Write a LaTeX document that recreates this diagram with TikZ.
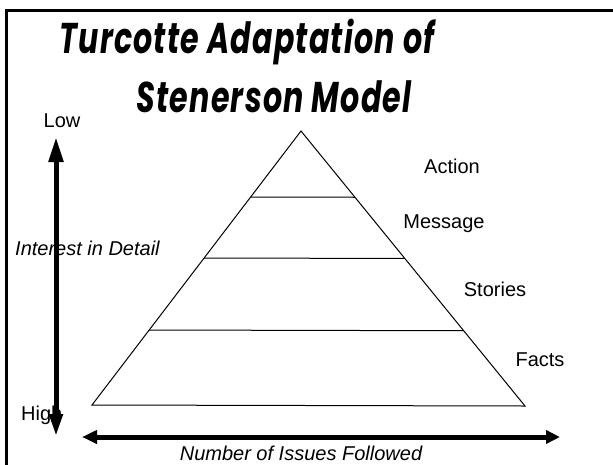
\documentclass[tikz,border=0pt]{standalone}
\usepackage{fontspec}
\setmainfont{Liberation Sans}
\newfontfamily\titlefont[LetterSpace=4]{Poppins}
\usetikzlibrary{arrows.meta,calc}

\tikzset{
  label text/.style={font=\fontsize{20}{24}\selectfont, inner sep=0pt},
  axis label/.style={label text, font=\fontsize{20}{24}\selectfont\itshape},
  title text/.style={font=\titlefont\bfseries\itshape\fontsize{43}{50}\selectfont, inner sep=0pt, anchor=base},
  layer line/.style={line width=1pt},
  axis arrow/.style={line width=5pt},
}
% condensed title lettering
\newcommand{\narrowtitle}[1]{\scalebox{0.70}[1]{#1}}

\begin{document}
\begin{tikzpicture}[x=1pt,y=-1pt]
  \useasboundingbox (0,0) rectangle (613,464);
  \clip (0,0) rectangle (613,464);

  % slide frame
  \draw[line width=3pt] (6,480) -- (6,10) -- (630,10);

  % title
  \node[title text] (title1) at (247,53) {\narrowtitle{Turcotte Adaptation of}};
  \node[title text] (title2) at (274,112) {\narrowtitle{Stenerson Model}};

  % pyramid
  \coordinate (apex) at (301,131);
  \coordinate (bl) at (92,405);
  \coordinate (br) at (525,406);
  \draw[layer line, line join=miter] (apex) -- (bl) -- (br) -- cycle;
  \foreach \t [count=\i] in {0.2409,0.4635,0.7263}{
    \coordinate (l\i) at ($(apex)!\t!(bl)$);
    \coordinate (r\i) at ($(apex)!\t!(br)$);
    \draw[layer line] (l\i) -- (r\i);
  }

  % layer labels
  \node[label text] (action)  at (452,166) {Action};
  \node[label text] (message) at (444,224) {Message};
  \node[label text] (stories) at (495,289) {Stories};
  \node[label text] (facts)   at (540,360) {Facts};

  % vertical axis
  \coordinate (vtop) at (56,137);
  \coordinate (vbot) at (56,436);
  \draw[axis arrow, {Triangle[length=22pt,width=13pt]}-{Triangle[length=25pt,width=14pt]}] (vbot) -- (vtop);
  \node[label text] (low) at (62,121) {Low};
  \node[label text, anchor=west] (high) at (21,415) {High};
  \node[axis label, anchor=west] (interest) at (15,248) {Interest in Detail};

  % horizontal axis
  \coordinate (hleft) at (82,437);
  \coordinate (hright) at (560,437);
  \draw[axis arrow, {Triangle[length=15pt,width=13pt]}-{Triangle[length=14pt,width=13pt]}] (hleft) -- (hright);
  \node[axis label] (issues) at (301,453) {Number of Issues Followed};
\end{tikzpicture}
\end{document}
